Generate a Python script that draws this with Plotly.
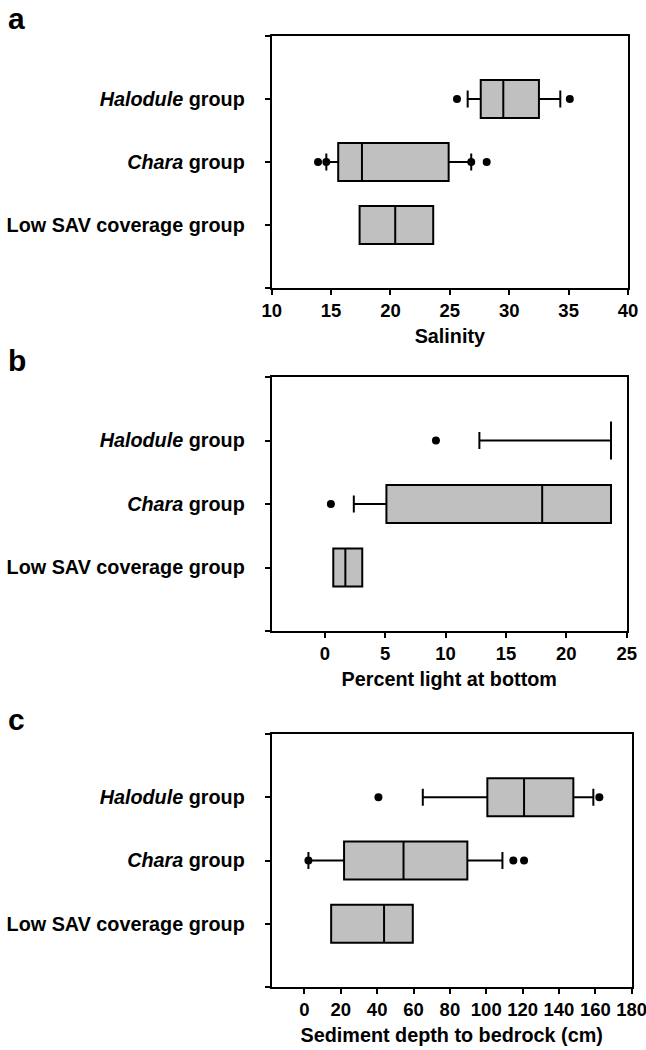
import plotly.graph_objects as go

# ---------------- data ----------------
groups = ["Halodule", "Chara", "LowSAV"]
group_labels = ["<i>Halodule</i> group", "<i>Chara</i> group", "Low SAV coverage group"]
group_pos = {"Halodule": 3, "Chara": 2, "LowSAV": 1}

# Panel a: Salinity
sal_q1 = [27.6, 15.6, 17.4]
sal_med = [29.5, 17.6, 20.4]
sal_q3 = [32.5, 24.9, 23.6]
sal_lo = [26.5, 14.6, 17.4]
sal_hi = [34.3, 26.8, 23.6]
sal_out_x = [25.6, 35.1, 13.9, 14.6, 26.8, 28.1]
sal_out_g = ["Halodule", "Halodule", "Chara", "Chara", "Chara", "Chara"]

# Panel b: Percent light at bottom
lig_q1 = [23.7, 5.1, 0.7]
lig_med = [23.7, 18.0, 1.7]
lig_q3 = [23.7, 23.7, 3.1]
lig_lo = [12.8, 2.4, 0.7]
lig_hi = [23.7, 23.7, 3.1]
lig_out_x = [9.2, 0.5]
lig_out_g = ["Halodule", "Chara"]

# Panel c: Sediment depth to bedrock (cm)
sed_q1 = [100.6, 21.8, 14.7]
sed_med = [120.8, 54.5, 43.8]
sed_q3 = [147.9, 89.6, 59.6]
sed_lo = [65.1, 2.2, 14.7]
sed_hi = [158.9, 108.9, 59.6]
sed_out_x = [40.7, 162.2, 2.2, 114.9, 120.8]
sed_out_g = ["Halodule", "Halodule", "Chara", "Chara", "Chara"]

panels = [
    dict(q1=sal_q1, med=sal_med, q3=sal_q3, lo=sal_lo, hi=sal_hi,
         ox=sal_out_x, og=sal_out_g, title="Salinity",
         rng=[10, 40], ticks=[10, 15, 20, 25, 30, 35, 40], letter="a"),
    dict(q1=lig_q1, med=lig_med, q3=lig_q3, lo=lig_lo, hi=lig_hi,
         ox=lig_out_x, og=lig_out_g, title="Percent light at bottom",
         rng=[-4.4, 25], ticks=[0, 5, 10, 15, 20, 25], letter="b"),
    dict(q1=sed_q1, med=sed_med, q3=sed_q3, lo=sed_lo, hi=sed_hi,
         ox=sed_out_x, og=sed_out_g, title="Sediment depth to bedrock (cm)",
         rng=[-18, 180], ticks=[0, 20, 40, 60, 80, 100, 120, 140, 160, 180], letter="c"),
]

# ---------------- layout geometry ----------------
W, H = 646, 1050
xdomains = [[271.7 / W, 628 / W], [271.7 / W, 626.7 / W], [271.7 / W, 631.7 / W]]
ydomains = [[1 - 288 / H, 1 - 36 / H], [1 - 631 / H, 1 - 377 / H], [1 - 987 / H, 1 - 734 / H]]
letter_y = [18.3, 360.3, 719.3]

FONT = "Liberation Sans, Arial, sans-serif"

fig = go.Figure()
layout = dict(width=W, height=H, margin=dict(l=0, r=0, t=0, b=0, autoexpand=False),
              plot_bgcolor="white", paper_bgcolor="white", showlegend=False,
              font=dict(family=FONT, color="black"))
annotations = []

for i, p in enumerate(panels):
    n = "" if i == 0 else str(i + 1)
    xa, ya = "x" + n, "y" + n
    ypos = [group_pos[g] for g in groups]
    fig.add_trace(go.Box(
        y=ypos, q1=p["q1"], median=p["med"], q3=p["q3"],
        lowerfence=p["lo"], upperfence=p["hi"], orientation="h",
        width=0.6, whiskerwidth=0.45, boxpoints=False,
        fillcolor="#c0c0c0", line=dict(color="black", width=2),
        xaxis=xa, yaxis=ya, hoverinfo="skip"))
    fig.add_trace(go.Scatter(
        x=p["ox"], y=[group_pos[g] for g in p["og"]], mode="markers",
        marker=dict(color="black", size=8), xaxis=xa, yaxis=ya, hoverinfo="skip"))

    axis_common = dict(showgrid=False, zeroline=False, showline=True, linecolor="black",
                       linewidth=2, mirror=True, ticks="outside", tickcolor="black",
                       tickwidth=2, ticklen=5, automargin=False, ticklabeloverflow="allow")
    layout["xaxis" + n] = dict(axis_common, domain=xdomains[i], range=p["rng"],
                               tickvals=p["ticks"], anchor=ya,
                               tickfont=dict(family=FONT, size=18.5, weight="bold", color="black"),
                               title=dict(text=p["title"], standoff=9,
                                          font=dict(family=FONT, size=19.8, weight="bold", color="black")))
    layout["yaxis" + n] = dict(axis_common, domain=ydomains[i], range=[0, 4],
                               tickvals=[0, 1, 2, 3, 4],
                               ticktext=["", group_labels[2], group_labels[1], group_labels[0], ""],
                               tickfont=dict(family=FONT, size=19.8, weight="bold", color="black"),
                               ticklabelstandoff=16, anchor=xa)
    annotations.append(dict(text=p["letter"], xref="paper", yref="paper",
                            x=6 / W, y=1 - letter_y[i] / H, xanchor="left", yanchor="middle",
                            showarrow=False,
                            font=dict(family=FONT, size=30, weight="bold", color="black")))

layout["annotations"] = annotations
fig.update_layout(**layout)
fig.write_html("out.html", config={"displayModeBar": False},
               post_script="document.body.style.margin='0';document.body.style.overflow='hidden';")
